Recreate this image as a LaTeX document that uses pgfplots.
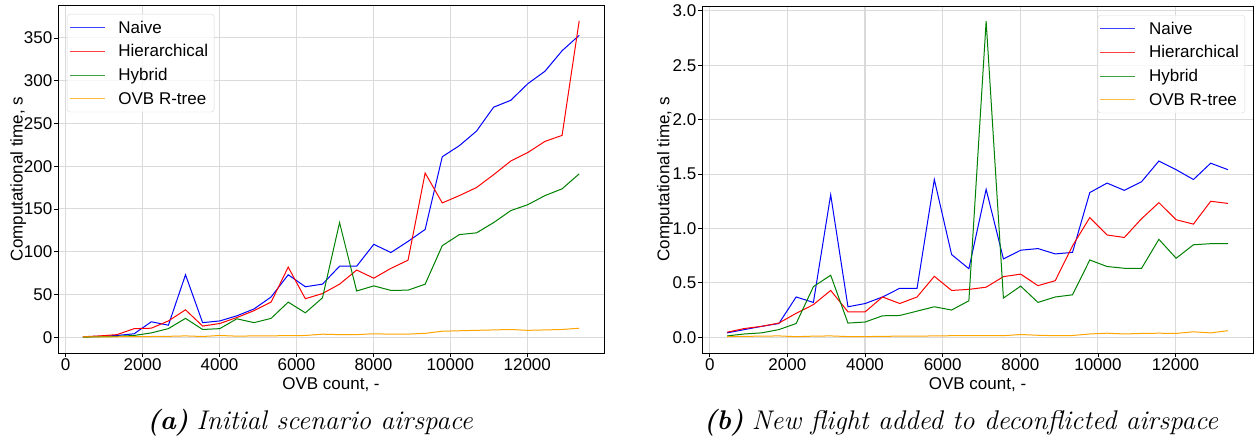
\documentclass[border=0pt]{standalone}
\usepackage{fontspec}
\setmainfont{Liberation Sans}
\newfontfamily\capfont{Latin Modern Roman}
\usepackage{pgfplots}
\usepackage{pgfplotstable}
\pgfplotsset{compat=1.18}

\definecolor{mplorange}{RGB}{255,165,0}
\definecolor{mplgreen}{RGB}{0,128,0}
\definecolor{gridgray}{RGB}{218,218,218}

% (a) initial scenario airspace
\pgfplotstableread{
x     naive  hier   hybrid ovb
445   0.5    0.5    0      0.3
890   1      1.5    0.5    0.4
1335  2      3      1      0.5
1780  4      10     2      0.6
2225  18     10.5   5      0.8
2670  14     19     10     1
3115  73     32     22     1.5
3560  17     13     9      0.8
4005  19     16     10     2
4450  25     23     21.5   1.2
4895  33     31     17     1.5
5340  47     41     22     1.6
5785  73     82     41     1.8
6230  59     45     28.5   2
6675  62     51     46     3.5
7120  83     62     134    3
7565  83     78.5   54     3
8010  108.6  69     60     4
8455  99     80.5   54.7   3.5
8900  112    90     55     3.6
9345  126    192    62     4.5
9790  211    157    107    7
10235 224    165.6  120    7.5
10680 241    175    122    8
11125 269    190    134    8.5
11570 277    206    148    9
12015 296.5  216    155    8
12460 311    229    165.6  8.5
12905 335    236    173.5  9
13350 353    370    191    10.5
}\tabinit

% (b) new flight added to deconflicted airspace
\pgfplotstableread{
x     naive  hier   hybrid ovb
445   0.04   0.046  0.012  0.006
890   0.07   0.08   0.03   0.008
1335  0.10   0.10   0.04   0.01
1780  0.126  0.13   0.07   0.012
2225  0.37   0.22   0.126  0.005
2670  0.32   0.30   0.465  0.01
3115  1.31   0.43   0.57   0.012
3560  0.28   0.234  0.13   0.006
4005  0.31   0.234  0.14   0.006
4450  0.37   0.37   0.197  0.008
4895  0.45   0.31   0.2    0.01
5340  0.45   0.37   0.24   0.01
5785  1.45   0.56   0.28   0.012
6230  0.76   0.43   0.25   0.014
6675  0.63   0.44   0.335  0.014
7120  1.36   0.46   2.905  0.014
7565  0.72   0.557  0.36   0.014
8010  0.80   0.58   0.47   0.025
8455  0.815  0.474  0.32   0.018
8900  0.766  0.52   0.37   0.014
9345  0.78   0.84   0.39   0.016
9790  1.33   1.10   0.71   0.03
10235 1.417  0.94   0.65   0.037
10680 1.35   0.917  0.634  0.03
11125 1.43   1.09   0.634  0.035
11570 1.62   1.237  0.90   0.037
12015 1.54   1.08   0.726  0.035
12460 1.45   1.04   0.85   0.05
12905 1.60   1.25   0.86   0.04
13350 1.54   1.23   0.86   0.06
}\tabnew

\pgfplotsset{
  ovbaxis/.style={
    scale only axis,
    anchor=south west,
    xmin=-200, xmax=13995,
    xtick={0,2000,4000,6000,8000,10000,12000},
    grid=major,
    grid style={gridgray, line width=1.1pt},
    axis line style={line width=0.9pt},
    tick align=outside,
    major tick length=4pt,
    tick style={black, line width=0.8pt},
    xtick pos=bottom, ytick pos=left,
    /pgf/number format/assume math mode=true,
    /pgf/number format/1000 sep={},
    scaled ticks=false,
    tick label style={font=\fontsize{17}{20}\selectfont},
    xticklabel style={inner sep=1pt},
    yticklabel style={inner sep=1.5pt},
    label style={font=\fontsize{17}{20}\selectfont},
    xlabel={OVB count, -},
    ylabel={Computational time, s},
    xlabel style={at={(axis description cs:0.5,0)}, anchor=center, yshift=-32pt},
    legend cell align=left,
    legend image code/.code={\draw[##1, line width=1.2pt, draw opacity=0.75] (0pt,0pt) -- (35pt,0pt);},
    legend style={font=\fontsize{17}{20}\selectfont, draw=gridgray,
      rounded corners=3pt, fill=white, fill opacity=0.8, text opacity=1,
      inner xsep=2pt, inner ysep=1.5pt,
      nodes={inner ysep=5pt, inner xsep=4pt},
      /tikz/every odd column/.append style={column sep=9pt}},
  },
}

\begin{document}
\begin{tikzpicture}
\useasboundingbox (0,0) rectangle (1258pt,440pt);

\begin{axis}[ovbaxis,
  at={(58pt,87pt)}, width=546pt, height=348pt,
  ymin=-18.5, ymax=388.5,
  ytick={0,50,...,350},
  ylabel style={at={(axis description cs:-0.073,0.5)}, anchor=center},
  legend style={at={(axis description cs:0,1)}, anchor=north west,
    xshift=9pt, yshift=-9pt},
]
\addplot[color=blue, line width=1pt] table[x=x, y=naive] {\tabinit};
\addlegendentry{Naive}
\addplot[color=red, line width=1pt] table[x=x, y=hier] {\tabinit};
\addlegendentry{Hierarchical}
\addplot[color=mplgreen, line width=1pt] table[x=x, y=hybrid] {\tabinit};
\addlegendentry{Hybrid}
\addplot[color=mplorange, line width=1pt] table[x=x, y=ovb] {\tabinit};
\addlegendentry{OVB R-tree}
\end{axis}

\begin{axis}[ovbaxis,
  at={(702pt,87pt)}, width=551pt, height=347pt,
  ymin=-0.145, ymax=3.045,
  ytick={0,0.5,...,3.0},
  yticklabel style={/pgf/number format/fixed, /pgf/number format/fixed zerofill,
    /pgf/number format/precision=1},
  ylabel style={at={(axis description cs:-0.067,0.5)}, anchor=center},
  legend style={at={(axis description cs:1,1)}, anchor=north east,
    xshift=-8pt, yshift=-9pt},
]
\addplot[color=blue, line width=1pt] table[x=x, y=naive] {\tabnew};
\addlegendentry{Naive}
\addplot[color=red, line width=1pt] table[x=x, y=hier] {\tabnew};
\addlegendentry{Hierarchical}
\addplot[color=mplgreen, line width=1pt] table[x=x, y=hybrid] {\tabnew};
\addlegendentry{Hybrid}
\addplot[color=mplorange, line width=1pt] table[x=x, y=ovb] {\tabnew};
\addlegendentry{OVB R-tree}
\end{axis}

\node[font=\capfont\fontsize{27}{32}\selectfont] at (310pt,17pt)
  {\textbf{\textit{(a)}} \textit{Initial scenario airspace}};
\node[font=\capfont\fontsize{27}{32}\selectfont] at (961pt,17pt)
  {\textbf{\textit{(b)}} \textit{New flight added to deconflicted airspace}};
\end{tikzpicture}
\end{document}
